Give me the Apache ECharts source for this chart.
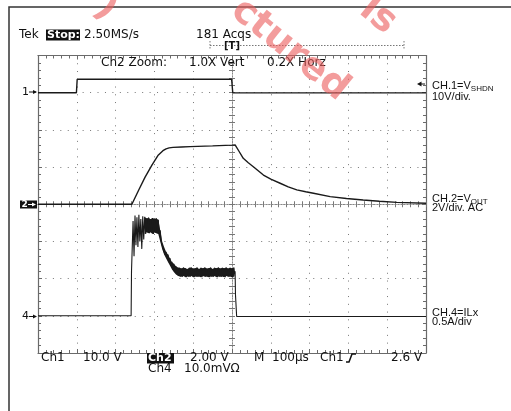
<!DOCTYPE html>
<html><head><meta charset="utf-8">
<script src="https://cdn.jsdelivr.net/npm/echarts@6/dist/echarts.min.js"></script>
<style>html,body{margin:0;padding:0;background:#fff}#c{width:511px;height:411px}</style>
</head><body><div id="c"></div>
<script>
// Time in microseconds relative to trigger (100 us/div)
const ch1Time = [-500, -401, -399, -1, 2, 500];
const ch1Volt = [0, 0, 3.6, 3.6, -0.05, -0.05];          // 10 V/div, ground at +3 div

const ch2Time = [-500, -258, -241, -224, -206, -191, -178, -170, -162, -152, -130, -108, -50, 0, 8, 18, 29, 42, 55, 81, 100, 124, 145, 167, 190, 210, 253, 295, 338, 380, 425, 500];
const ch2Volt = [0, 0, 0.74, 1.46, 2.12, 2.62, 2.88, 2.98, 3.03, 3.06, 3.08, 3.10, 3.14, 3.18, 3.19, 2.85, 2.47, 2.23, 2.02, 1.57, 1.35, 1.13, 0.93, 0.77, 0.67, 0.59, 0.41, 0.31, 0.23, 0.16, 0.10, 0.05]; // 2 V/div

const ch4PreTime = [-500, -260, -259];
const ch4PreAmp = [0, 0, 0.6];
const ch4EnvTime = [-255,-250,-245,-240,-235,-230,-225,-220,-215,-210,-205,-200,-195,-190,-185,-180,-175,-170,-165,-160,-155,-150,-145,-140,-135,-130,-125,-120,-115,-110,-105,-100,-95,-90,-85,-80,-75,-70,-65,-60,-55,-50,-45,-40,-35,-30,-25,-20,-15,-10,-5,0,5];
const ch4EnvHigh = [1.275,1.35,1.325,1.36,1.30,1.34,1.33,1.31,1.32,1.30,1.315,1.305,1.31,1.29,1.15,1.00,0.925,0.86,0.825,0.775,0.725,0.70,0.67,0.65,0.645,0.635,0.65,0.64,0.63,0.645,0.65,0.635,0.64,0.65,0.63,0.645,0.64,0.65,0.635,0.64,0.65,0.63,0.645,0.64,0.65,0.635,0.645,0.64,0.65,0.635,0.645,0.64,0.65];
const ch4EnvLow = [0.80,0.95,0.925,1.00,0.90,1.025,1.10,1.125,1.11,1.125,1.10,1.12,1.11,1.10,1.00,0.90,0.825,0.775,0.725,0.675,0.625,0.59,0.56,0.54,0.53,0.525,0.535,0.52,0.53,0.525,0.535,0.52,0.53,0.525,0.53,0.52,0.535,0.525,0.53,0.52,0.53,0.525,0.535,0.52,0.53,0.525,0.53,0.52,0.535,0.525,0.53,0.52,0.53];
const ch4PostTime = [8, 9, 11, 12, 500];
const ch4PostAmp = [0.6, 0.28, 0.27, -0.01, -0.01];      // 0.5 A/div, ground at -3 div
const ch4SolidFrom = -225;                                 // dense band (solid) starts here

const xTicks = {min: -500, max: 500, interval: 100};
const yTicks = {min: -4, max: 4, interval: 1};

const ch1Data = ch1Time.map((t, i) => [t, ch1Volt[i] / 10 + 3]);
const ch2Data = ch2Time.map((t, i) => [t, ch2Volt[i] / 2]);
const ch4Data = [];
ch4PreTime.forEach((t, i) => ch4Data.push([t, ch4PreAmp[i] / 0.5 - 3]));
ch4EnvTime.forEach((t, i) => {
  ch4Data.push([t, ch4EnvHigh[i] / 0.5 - 3]);
  ch4Data.push([t + 2.5, ch4EnvLow[i] / 0.5 - 3]);
});
ch4PostTime.forEach((t, i) => ch4Data.push([t, ch4PostAmp[i] / 0.5 - 3]));
const k0 = ch4EnvTime.indexOf(ch4SolidFrom);
const bandData = ch4EnvTime.slice(k0).map((t, i) => [t, ch4EnvHigh[k0 + i] / 0.5 - 3, ch4EnvLow[k0 + i] / 0.5 - 3]);

const frameColor = '#6a6a6a';
function edgeAxis(base, pos, split, dash) {
  return Object.assign({type: 'value', position: pos}, base, {
    axisLine: {show: true, onZero: false, lineStyle: {color: frameColor, width: 1.2}},
    axisTick: {show: true, inside: true, length: 4, lineStyle: {color: frameColor}},
    minorTick: {show: true, splitNumber: 5, length: 3, lineStyle: {color: frameColor}},
    axisLabel: {show: false},
    splitLine: {show: split, lineStyle: {color: '#777', width: 1, type: dash}}
  });
}
function centerAxis(base, pos) {
  return Object.assign({type: 'value', position: pos}, base, {
    axisLine: {show: true, onZero: true, onZeroAxisIndex: 0, lineStyle: {color: '#888', width: 1, type: [1, 2]}},
    axisTick: {show: true, inside: true, length: 3, lineStyle: {color: '#777'}},
    minorTick: {show: true, splitNumber: 5, length: 3, lineStyle: {color: '#777'}},
    axisLabel: {show: false},
    splitLine: {show: false}
  });
}

const FONT = '"DejaVu Sans", sans-serif';
const SANS = '"Liberation Sans", Arial, sans-serif';
function txt(x, y, s, opts) {
  return {type: 'text', x: x, y: y, z: 50, style: Object.assign({text: s, fill: '#111', font: '12px ' + FONT, textVerticalAlign: 'middle'}, opts || {})};
}
function box(x, y, w, h) {
  return {type: 'rect', z: 49, shape: {x: x, y: y, width: w, height: h}, style: {fill: '#111'}};
}
function wm(x, y, s) {
  return {type: 'text', x: x, y: y, z: 200, rotation: -0.68,
    style: {text: s, fill: 'rgba(235,95,95,0.62)', font: 'bold 38px "DejaVu Sans", sans-serif', textAlign: 'center', textVerticalAlign: 'middle'}};
}

const chart = echarts.init(document.getElementById('c'), null, {renderer: 'canvas'});
chart.setOption({
  animation: false,
  backgroundColor: '#fff',
  grid: {left: 38, top: 55.5, width: 388, height: 297.5},
  xAxis: [
    edgeAxis(xTicks, 'bottom', true, [1, 6.76]),
    edgeAxis(xTicks, 'top', false, 'solid'),
    centerAxis(xTicks, 'bottom'),
    centerAxis(xTicks, 'top')
  ],
  yAxis: [
    edgeAxis(yTicks, 'left', true, [1, 6.44]),
    edgeAxis(yTicks, 'right', false, 'solid'),
    centerAxis(yTicks, 'left'),
    centerAxis(yTicks, 'right')
  ],
  series: [
    {type: 'line', data: ch1Data, showSymbol: false, lineStyle: {color: '#1a1a1a', width: 1.4}, z: 10},
    {type: 'line', data: ch2Data, showSymbol: false, lineStyle: {color: '#1a1a1a', width: 1.4}, z: 10},
    {type: 'custom', data: bandData, silent: true, z: 9, encode: {x: 0, y: [1, 2]},
      renderItem: function (params, api) {
        if (params.dataIndex !== 0) return null;
        const top = bandData.map(d => api.coord([d[0], d[1]]));
        const bot = bandData.slice().reverse().map(d => api.coord([d[0], d[2]]));
        return {type: 'polygon', shape: {points: top.concat(bot)}, style: {fill: '#1a1a1a'}};
      }},
    {type: 'line', data: ch4Data, showSymbol: false, lineStyle: {color: '#1a1a1a', width: 1.1}, z: 10}
  ],
  graphic: [
    {type: 'polyline', z: 40, shape: {points: [[9, 411], [9, 7], [511, 7]]}, style: {stroke: '#333', lineWidth: 1.5, fill: null}},
    txt(19, 35, 'Tek'),
    box(46, 29.5, 34, 11),
    txt(47, 35, 'Stop:', {fill: '#fff', font: 'bold 11px ' + FONT}),
    txt(84, 35, '2.50MS/s'),
    txt(196, 35, '181 Acqs'),
    {type: 'line', z: 45, shape: {x1: 210, y1: 45.5, x2: 404, y2: 45.5}, style: {stroke: '#777', lineWidth: 1, lineDash: [1.5, 1.5]}},
    {type: 'line', z: 45, shape: {x1: 210, y1: 41, x2: 210, y2: 50}, style: {stroke: '#777', lineWidth: 1, lineDash: [1.5, 1.5]}},
    {type: 'line', z: 45, shape: {x1: 404, y1: 41, x2: 404, y2: 50}, style: {stroke: '#777', lineWidth: 1, lineDash: [1.5, 1.5]}},
    txt(232, 46, '[T]', {font: 'bold 10px ' + FONT, textAlign: 'center'}),
    txt(101, 63, 'Ch2 Zoom:'),
    txt(189, 63, '1.0X Vert'),
    txt(267, 63, '0.2X Horz'),
    txt(41, 358, 'Ch1'),
    txt(83, 358, '10.0 V'),
    box(147, 353, 27, 10.5),
    txt(148, 358, 'Ch2', {fill: '#fff', font: 'bold 11px ' + FONT}),
    txt(190, 358, '2.00 V'),
    txt(254, 358, 'M'),
    txt(272, 358, '100µs'),
    txt(320, 358, 'Ch1'),
    {type: 'polyline', z: 50, shape: {points: [[346, 362], [349, 362], [352, 354], [356, 354]]}, style: {stroke: '#111', lineWidth: 1.5, fill: null}},
    txt(391, 358, '2.6 V'),
    txt(148, 369, 'Ch4'),
    txt(184, 369, '10.0mVΩ'),
    // left channel markers
    txt(22, 92, '1', {font: '11px ' + FONT}),
    {type: 'line', z: 50, shape: {x1: 29, y1: 92, x2: 36, y2: 92}, style: {stroke: '#111', lineWidth: 1}},
    {type: 'polygon', z: 50, shape: {points: [[33, 90], [37, 92], [33, 94]]}, style: {fill: '#111'}},
    box(20, 200.5, 17, 8),
    txt(21.5, 204.5, '2', {fill: '#fff', font: 'bold 9px ' + FONT}),
    {type: 'line', z: 51, shape: {x1: 28, y1: 204.5, x2: 34, y2: 204.5}, style: {stroke: '#fff', lineWidth: 1}},
    {type: 'polygon', z: 51, shape: {points: [[32, 202.5], [36, 204.5], [32, 206.5]]}, style: {fill: '#fff'}},
    txt(22, 316.5, '4', {font: '11px ' + FONT}),
    {type: 'line', z: 50, shape: {x1: 29, y1: 316.5, x2: 36, y2: 316.5}, style: {stroke: '#111', lineWidth: 1}},
    {type: 'polygon', z: 50, shape: {points: [[33, 314.5], [37, 316.5], [33, 318.5]]}, style: {fill: '#111'}},
    // trigger level arrow
    {type: 'polygon', z: 50, shape: {points: [[417, 84], [421.5, 81.5], [421.5, 86.5]]}, style: {fill: '#111'}},
    {type: 'line', z: 50, shape: {x1: 421, y1: 84, x2: 425, y2: 84}, style: {stroke: '#111', lineWidth: 1}},
    // right labels
    {type: 'text', x: 432, y: 86, z: 50, style: {text: 'CH.1=V{s|SHDN}', font: '11px ' + SANS, fill: '#111', textVerticalAlign: 'middle', rich: {s: {font: '8px ' + SANS, fill: '#111', padding: [5, 0, 0, 0]}}}},
    txt(432, 97, '10V/div.', {font: '11px ' + SANS}),
    {type: 'text', x: 432, y: 199, z: 50, style: {text: 'CH.2=V{s|OUT}', font: '11px ' + SANS, fill: '#111', textVerticalAlign: 'middle', rich: {s: {font: '8px ' + SANS, fill: '#111', padding: [5, 0, 0, 0]}}}},
    txt(432, 208, '2V/div. AC', {font: '11px ' + SANS}),
    txt(432, 313, 'CH.4=ILx', {font: '11px ' + SANS}),
    txt(432, 322, '0.5A/div', {font: '11px ' + SANS}),
    // watermark fragments
    wm(106, 8, ')'),
    wm(290, 50, 'ctured'),
    wm(378, 16, 'ls')
  ]
});
</script>
</body></html>
